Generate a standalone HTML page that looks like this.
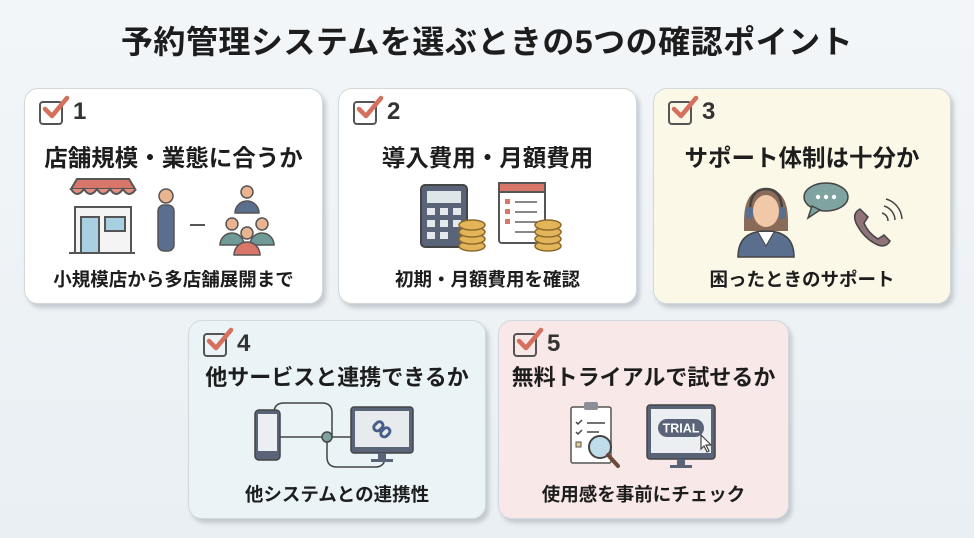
<!DOCTYPE html>
<html><head><meta charset="utf-8"><style>
*{margin:0;padding:0;box-sizing:border-box}
body{width:974px;height:538px;overflow:hidden;background:linear-gradient(180deg,#f3f6f8,#e9eff3);font-family:"Liberation Sans","Noto Sans CJK JP",sans-serif;position:relative;color:#1d1d1d}
.title{position:absolute;top:17px;left:0;width:974px;text-align:center;font-size:32px;font-weight:bold;letter-spacing:0.5px}
.card{position:absolute;border:1.5px solid #d3d8dc;border-radius:14px;box-shadow:3px 4px 4px rgba(120,130,140,.35)}
.chk{position:absolute;left:14px;top:12px;width:24px;height:24px;border:2.5px solid #555;border-radius:4px}
.chk svg{position:absolute;left:1px;top:-8px}
.num{position:absolute;left:48px;top:9px;font-size:24px;font-weight:bold;color:#333}
.h{position:absolute;left:0;width:100%;top:50px;text-align:center;font-size:23.5px;font-weight:bold}
.r2 .h{top:39px;font-size:22px}
.s{position:absolute;left:0;width:100%;bottom:11px;text-align:center;font-size:18.5px;font-weight:bold}
.ic{position:absolute;left:0;top:0}
</style></head><body>
<div class="title">予約管理システムを選ぶときの5つの確認ポイント</div>

<div class="card" style="left:24px;top:88px;width:299px;height:216px;background:#fff">
<div class="chk"><svg width="28" height="26"><path d="M3 14 L10 21 L25 3" stroke="#d56f5e" stroke-width="4.5" fill="none" stroke-linecap="round" stroke-linejoin="round"/></svg></div>
<div class="num">1</div><div class="h">店舗規模・業態に合うか</div>
<svg class="ic" width="299" height="216">
<rect x="50" y="118" width="56" height="46" fill="#f4f4f4" stroke="#555" stroke-width="2"/>
<path d="M46 100 L52 90 L104 90 L110 100 Z" fill="#d8766a" stroke="#555" stroke-width="2"/>
<path d="M46 100 q6 10 13 0 q6 10 13 0 q6 10 13 0 q6 10 13 0 q6 10 13 0" fill="#e58c80" stroke="#555" stroke-width="2"/>
<rect x="56" y="128" width="18" height="36" fill="#a8d0e0" stroke="#555" stroke-width="2"/>
<rect x="80" y="128" width="20" height="14" fill="#a8d0e0" stroke="#555" stroke-width="2"/>
<line x1="44" y1="164" x2="110" y2="164" stroke="#555" stroke-width="2"/>
<circle cx="141" cy="107" r="7" fill="#e8b590" stroke="#555" stroke-width="1.5"/>
<rect x="133" y="116" width="16" height="46" rx="6" fill="#5a6e8e" stroke="#555" stroke-width="1.5"/>
<line x1="165" y1="136" x2="180" y2="136" stroke="#555" stroke-width="2"/>
<circle cx="222" cy="103" r="6" fill="#e8b590" stroke="#555" stroke-width="1.5"/>
<path d="M210 124 a12 12 0 0 1 24 0 Z" fill="#5a6e8e" stroke="#555" stroke-width="1.5"/>
<circle cx="207" cy="135" r="6" fill="#e8b590" stroke="#555" stroke-width="1.5"/>
<circle cx="237" cy="135" r="6" fill="#e8b590" stroke="#555" stroke-width="1.5"/>
<path d="M195 156 a12 12 0 0 1 24 0 Z" fill="#6f9a98" stroke="#555" stroke-width="1.5"/>
<path d="M225 156 a12 12 0 0 1 24 0 Z" fill="#6f9a98" stroke="#555" stroke-width="1.5"/>
<circle cx="222" cy="144" r="6" fill="#e8b590" stroke="#555" stroke-width="1.5"/>
<path d="M209 166 a13 13 0 0 1 26 0 Z" fill="#d8766a" stroke="#555" stroke-width="1.5"/>
</svg>
<div class="s">小規模店から多店舗展開まで</div></div>

<div class="card" style="left:338px;top:88px;width:299px;height:216px;background:#fff">
<div class="chk"><svg width="28" height="26"><path d="M3 14 L10 21 L25 3" stroke="#d56f5e" stroke-width="4.5" fill="none" stroke-linecap="round" stroke-linejoin="round"/></svg></div>
<div class="num">2</div><div class="h">導入費用・月額費用</div>
<svg class="ic" width="299" height="216">
<rect x="82" y="96" width="46" height="62" rx="4" fill="#5a6478" stroke="#444" stroke-width="2"/>
<rect x="88" y="102" width="34" height="12" fill="#dfe6e8"/>
<g fill="#e6e9ec"><rect x="88" y="119" width="8" height="7"/><rect x="101" y="119" width="8" height="7"/><rect x="114" y="119" width="8" height="7"/><rect x="88" y="131" width="8" height="7"/><rect x="101" y="131" width="8" height="7"/><rect x="114" y="131" width="8" height="7"/><rect x="88" y="143" width="8" height="7"/><rect x="101" y="143" width="8" height="7"/></g>
<g fill="#e3b45a" stroke="#8a6a2a" stroke-width="1.5"><ellipse cx="133" cy="157" rx="13" ry="5"/><ellipse cx="133" cy="150" rx="13" ry="5"/><ellipse cx="133" cy="143" rx="13" ry="5"/><ellipse cx="133" cy="136" rx="13" ry="5"/></g>
<rect x="160" y="94" width="46" height="60" rx="3" fill="#fff" stroke="#555" stroke-width="2"/>
<rect x="160" y="94" width="46" height="9" fill="#d8766a" stroke="#555" stroke-width="2"/>
<g stroke="#888" stroke-width="2"><line x1="176" y1="113" x2="198" y2="113"/><line x1="176" y1="123" x2="198" y2="123"/><line x1="176" y1="133" x2="198" y2="133"/><line x1="176" y1="143" x2="198" y2="143"/></g>
<g fill="#d8766a"><rect x="166" y="110" width="5" height="5"/><rect x="166" y="120" width="5" height="5"/><rect x="166" y="130" width="5" height="5"/></g>
<g fill="#e3b45a" stroke="#8a6a2a" stroke-width="1.5"><ellipse cx="209" cy="157" rx="13" ry="5"/><ellipse cx="209" cy="150" rx="13" ry="5"/><ellipse cx="209" cy="143" rx="13" ry="5"/><ellipse cx="209" cy="136" rx="13" ry="5"/></g>
</svg>
<div class="s">初期・月額費用を確認</div></div>

<div class="card" style="left:653px;top:88px;width:298px;height:216px;background:#fbf8e8">
<div class="chk"><svg width="28" height="26"><path d="M3 14 L10 21 L25 3" stroke="#d56f5e" stroke-width="4.5" fill="none" stroke-linecap="round" stroke-linejoin="round"/></svg></div>
<div class="num">3</div><div class="h">サポート体制は十分か</div>
<svg class="ic" width="298" height="216">
<path d="M90 132 q0 -32 22 -32 q22 0 22 32 v10 h-44 Z" fill="#8a6a58"/>
<ellipse cx="112" cy="122" rx="13" ry="16" fill="#f2c9a8"/>
<path d="M84 168 q0 -26 28 -26 q28 0 28 26 Z" fill="#5a6e8e" stroke="#444" stroke-width="1.5"/>
<path d="M104 143 l8 14 l8 -14" fill="#fff" stroke="#444" stroke-width="1"/>
<path d="M96 122 q0 -22 16 -22 q16 0 16 22" fill="none" stroke="#444" stroke-width="2.5"/>
<rect x="92" y="118" width="7" height="12" rx="3" fill="#5a6e8e"/><rect x="125" y="118" width="7" height="12" rx="3" fill="#5a6e8e"/>
<ellipse cx="172" cy="108" rx="22" ry="14" fill="#7ea3a0" stroke="#444" stroke-width="1.5"/>
<path d="M158 117 l-4 12 l12 -8 Z" fill="#7ea3a0" stroke="#444" stroke-width="1.5"/>
<g fill="#fff"><circle cx="164" cy="108" r="2.2"/><circle cx="172" cy="108" r="2.2"/><circle cx="180" cy="108" r="2.2"/></g>
<path d="M206 120 q-8 4 -4 14 q8 16 22 22 q8 3 12 -4 l-6 -6 l-6 4 q-10 -6 -14 -16 l4 -6 Z" fill="#8e7478" stroke="#444" stroke-width="1.5"/>
<g fill="none" stroke="#444" stroke-width="1.5"><path d="M228 124 a8 8 0 0 1 6 8"/><path d="M230 117 a15 15 0 0 1 11 14"/><path d="M232 110 a22 22 0 0 1 16 20"/></g>
</svg>
<div class="s">困ったときのサポート</div></div>

<div class="card r2" style="left:188px;top:320px;width:298px;height:199px;background:#eaf4f7">
<div class="chk"><svg width="28" height="26"><path d="M3 14 L10 21 L25 3" stroke="#d56f5e" stroke-width="4.5" fill="none" stroke-linecap="round" stroke-linejoin="round"/></svg></div>
<div class="num">4</div><div class="h">他サービスと連携できるか</div>
<svg class="ic" width="298" height="199">
<g fill="none" stroke="#444" stroke-width="1.5"><path d="M85 92 q0 -10 10 -10 h38 q10 0 10 10 v23"/><path d="M86 116 h78"/><path d="M138 116 v20 q0 10 10 10 h38 q10 0 10 -10"/></g>
<rect x="66" y="89" width="25" height="50" rx="4" fill="#5a6478" stroke="#444" stroke-width="1.5"/><rect x="69" y="93" width="19" height="37" fill="#eceff1"/>
<circle cx="138" cy="116" r="5" fill="#7ea3a0" stroke="#444" stroke-width="1.5"/>
<rect x="162" y="86" width="62" height="46" rx="3" fill="#5a6478" stroke="#444" stroke-width="1.5"/><rect x="166" y="90" width="54" height="36" fill="#e7ebee"/>
<rect x="189" y="132" width="8" height="6" fill="#5a6478"/><rect x="182" y="138" width="22" height="3" fill="#5a6478"/>
<g fill="none" stroke="#4a5e8a" stroke-width="3"><rect x="184" y="102" width="10" height="7" rx="3.5" transform="rotate(-45 189 105)"/><rect x="191" y="108" width="10" height="7" rx="3.5" transform="rotate(-45 196 111)"/></g>
</svg>
<div class="s">他システムとの連携性</div></div>

<div class="card r2" style="left:498px;top:320px;width:291px;height:199px;background:#f9e8e8">
<div class="chk"><svg width="28" height="26"><path d="M3 14 L10 21 L25 3" stroke="#d56f5e" stroke-width="4.5" fill="none" stroke-linecap="round" stroke-linejoin="round"/></svg></div>
<div class="num">5</div><div class="h">無料トライアルで試せるか</div>
<svg class="ic" width="291" height="199">
<rect x="72" y="86" width="40" height="56" rx="2" fill="#fff" stroke="#555" stroke-width="1.5"/>
<rect x="85" y="81" width="14" height="8" rx="2" fill="#8a8e96"/>
<g fill="none" stroke="#444" stroke-width="1.5"><path d="M77 101 l2 2 l4 -4"/><path d="M77 111 l2 2 l4 -4"/><line x1="88" y1="102" x2="106" y2="102"/><line x1="88" y1="111" x2="100" y2="111"/></g>
<rect x="77" y="121" width="5" height="5" fill="#e8c98a" stroke="#555"/>
<circle cx="101" cy="126" r="11" fill="#bfdcea" stroke="#444" stroke-width="2"/>
<line x1="109" y1="134" x2="119" y2="145" stroke="#6b4a3a" stroke-width="4" stroke-linecap="round"/>
<rect x="148" y="84" width="68" height="54" rx="3" fill="#5a6478" stroke="#444" stroke-width="1.5"/><rect x="152" y="88" width="60" height="44" fill="#eceff1"/>
<rect x="178" y="138" width="8" height="6" fill="#5a6478"/><rect x="171" y="144" width="22" height="3" fill="#5a6478"/>
<rect x="159" y="98" width="46" height="18" rx="9" fill="#5a6478"/>
<text x="182" y="111.5" text-anchor="middle" fill="#fff" font-size="12.5" font-weight="bold" font-family="Liberation Sans,sans-serif">TRIAL</text>
<path d="M202 114 v14 l3 -3 l3 6 l2 -1 l-3 -6 h5 Z" fill="#fff" stroke="#444" stroke-width="1.2"/>
</svg>
<div class="s">使用感を事前にチェック</div></div>
</body></html>
